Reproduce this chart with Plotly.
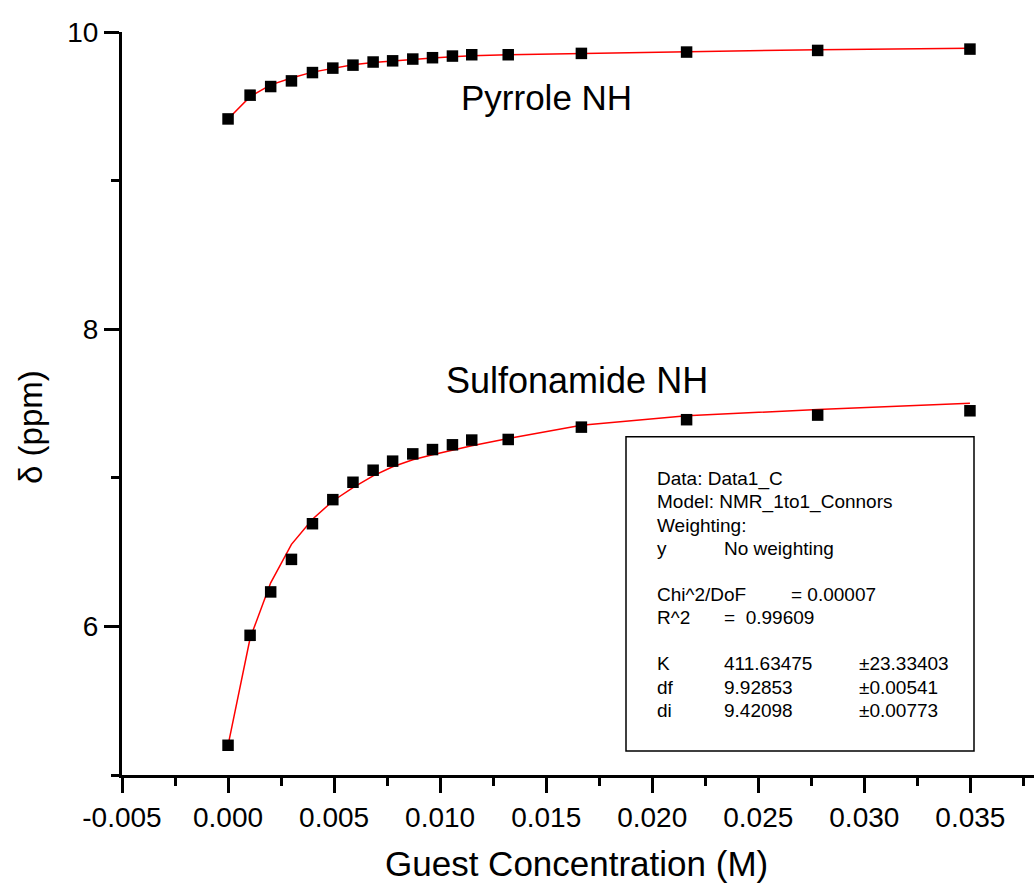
import plotly.graph_objects as go

# ---------------- data ----------------
guest_conc = [0.0, 0.00104, 0.00201, 0.00299, 0.00398, 0.00494, 0.00589, 0.00684,
              0.00776, 0.00871, 0.00964, 0.01058, 0.01149, 0.01321, 0.01666,
              0.02162, 0.0278, 0.03498]

pyrrole_obs = [9.415, 9.575, 9.633, 9.671, 9.727, 9.757, 9.777, 9.798, 9.806,
               9.818, 9.827, 9.838, 9.847, 9.847, 9.856, 9.865, 9.876, 9.885]
pyrrole_fit = [9.415, 9.565, 9.644, 9.690, 9.730, 9.757, 9.779, 9.795, 9.806,
               9.815, 9.825, 9.833, 9.840, 9.847, 9.856, 9.868, 9.881, 9.890]

sulfon_obs = [5.200, 5.940, 6.232, 6.451, 6.691, 6.853, 6.970, 7.051, 7.112,
              7.161, 7.190, 7.222, 7.254, 7.258, 7.341, 7.391, 7.422, 7.451]
sulfon_fit = [5.200, 5.920, 6.293, 6.552, 6.721, 6.844, 6.934, 7.013, 7.074,
              7.121, 7.155, 7.188, 7.215, 7.265, 7.354, 7.417, 7.460, 7.501]

x_tick_vals = [-0.005, 0.0, 0.005, 0.010, 0.015, 0.020, 0.025, 0.030, 0.035]
x_tick_text = ["-0.005", "0.000", "0.005", "0.010", "0.015", "0.020", "0.025", "0.030", "0.035"]
y_tick_vals = [6, 8, 10]
y_tick_text = ["6", "8", "10"]

series_labels = ["Pyrrole NH", "Sulfonamide NH"]

fit_rows = [
    ["Data: Data1_C", "", "", ""],
    ["Model: NMR_1to1_Connors", "", "", ""],
    ["Weighting:", "", "", ""],
    ["y", "No weighting", "", ""],
    ["Chi^2/DoF", "", "= 0.00007", ""],
    ["R^2", "=  0.99609", "", ""],
    ["K", "411.63475", "", "±23.33403"],
    ["df", "9.92853", "", "±0.00541"],
    ["di", "9.42098", "", "±0.00773"],
]

# ---------------- layout helpers ----------------
W, H = 1034, 886
L, R, T, B = 122, 0, 32, 111
PW, PH = W - L - R, H - T - B
FONT = "Liberation Sans, Arial, sans-serif"


def px_x(px):
    return (px - L) / PW


def px_y(py):
    return (H - B - py) / PH


fig = go.Figure()

for obs, fit in [(pyrrole_obs, pyrrole_fit), (sulfon_obs, sulfon_fit)]:
    fig.add_trace(go.Scatter(x=guest_conc, y=fit, mode="lines",
                             line=dict(color="#ff0000", width=1.5),
                             showlegend=False, hoverinfo="skip"))
    fig.add_trace(go.Scatter(x=guest_conc, y=obs, mode="markers",
                             marker=dict(symbol="square", size=11.5, color="black",
                                         line=dict(width=0)),
                             showlegend=False))

annotations = []
# series labels
annotations.append(dict(x=px_x(546.5), y=px_y(97), xref="paper", yref="paper",
                        text=series_labels[0], showarrow=False,
                        font=dict(family=FONT, size=35, color="black"),
                        xanchor="center", yanchor="middle"))
annotations.append(dict(x=px_x(577), y=px_y(380), xref="paper", yref="paper",
                        text=series_labels[1], showarrow=False,
                        font=dict(family=FONT, size=36, color="black"),
                        xanchor="center", yanchor="middle"))
# axis titles
annotations.append(dict(x=px_x(576.5), y=px_y(864), xref="paper", yref="paper",
                        text="Guest Concentration (M)", showarrow=False,
                        font=dict(family=FONT, size=35, color="black"),
                        xanchor="center", yanchor="middle"))
annotations.append(dict(x=px_x(31), y=px_y(427), xref="paper", yref="paper",
                        text="δ (ppm)", showarrow=False, textangle=-90,
                        font=dict(family=FONT, size=33, color="black"),
                        xanchor="center", yanchor="middle"))

# fit-result box text
row_y = [478.7, 502, 525.3, 548.7, 594.5, 617.8, 663.5, 687, 710.3]
col_x = [655, 721.7, 789, 856.7]
for row, ry in zip(fit_rows, row_y):
    for txt, cx in zip(row, col_x):
        if txt:
            annotations.append(dict(x=px_x(cx), y=px_y(ry), xref="paper", yref="paper",
                                    text=txt, showarrow=False,
                                    font=dict(family=FONT, size=19, color="black"),
                                    xanchor="left", yanchor="middle"))

fig.update_layout(
    width=W, height=H,
    margin=dict(l=L, r=R, t=T, b=B, pad=0),
    paper_bgcolor="white", plot_bgcolor="white",
    font=dict(family=FONT, color="black"),
    annotations=annotations,
    shapes=[dict(type="rect", xref="paper", yref="paper",
                 x0=px_x(626), x1=px_x(974), y0=px_y(751), y1=px_y(436.7),
                 line=dict(color="black", width=1.5), fillcolor="rgba(0,0,0,0)")],
    xaxis=dict(range=[-0.005, 0.038], showgrid=False, zeroline=False,
               showline=True, linecolor="black", linewidth=3,
               ticks="outside", ticklen=15, tickwidth=2.5, tickcolor="black",
               tickvals=x_tick_vals, ticktext=x_tick_text,
               tickfont=dict(family=FONT, size=28, color="black"),
               minor=dict(ticks="outside", ticklen=8, tickwidth=2.5, tickcolor="black",
                          tick0=-0.0025, dtick=0.005, showgrid=False)),
    yaxis=dict(range=[5, 10], showgrid=False, zeroline=False,
               showline=True, linecolor="black", linewidth=3,
               ticks="outside", ticklen=15, tickwidth=2.5, tickcolor="black",
               tickvals=y_tick_vals, ticktext=y_tick_text,
               tickfont=dict(family=FONT, size=28, color="black"),
               minor=dict(ticks="outside", ticklen=8, tickwidth=2.5, tickcolor="black",
                          tick0=5, dtick=1, showgrid=False)),
)

fig.write_html("out.html")
